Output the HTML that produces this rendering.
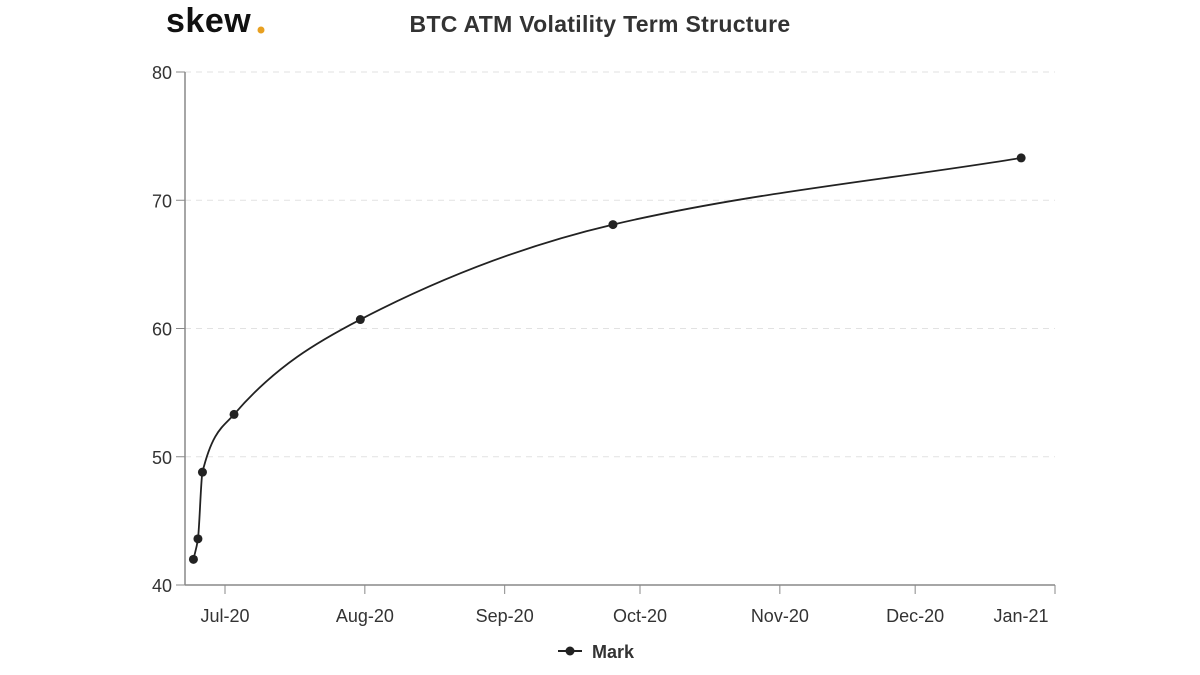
<!DOCTYPE html>
<html><head><meta charset="utf-8"><style>
body{margin:0;background:#fff;font-family:"Liberation Sans",sans-serif;}
svg text{font-family:"Liberation Sans",sans-serif;}
</style></head><body>
<svg id="chart" width="1200" height="670">
<text x="166" y="32" font-size="34" font-weight="bold" fill="#111" style="letter-spacing:0.5px">skew</text>
<circle cx="261" cy="30" r="3.5" fill="#e8a020"/>
<text x="600" y="32" font-size="23" font-weight="bold" fill="#333" text-anchor="middle" style="letter-spacing:0.3px">BTC ATM Volatility Term Structure</text>
<g id="grid"></g><g id="axes"></g><g id="series"></g>
<g>
<line x1="558" y1="651" x2="582" y2="651" stroke="#222" stroke-width="2"/>
<circle cx="570" cy="651" r="4.5" fill="#222"/>
<text x="592" y="658" font-size="18" font-weight="bold" fill="#333">Mark</text>
</g>
</svg>
<script>
const tickLabels=["Jul-20","Aug-20","Sep-20","Oct-20","Nov-20","Dec-20","Jan-21"];
const tickDays=[0,31,62,92,123,153,184];
const yTicks=[40,50,60,70,80];
const pointDays=[-7,-6,-5,2,30,86,176.5];
const markValues=[42.0,43.6,48.8,53.3,60.7,68.1,73.3];
const X0=185,X1=1055,Y0=585,Y1=72;
const dMin=-8.87,dMax=184;
const x=d=>X0+(d-dMin)/(dMax-dMin)*(X1-X0);
const y=v=>Y0-(v-40)/(80-40)*(Y0-Y1);
const NS="http://www.w3.org/2000/svg";
function mk(t,a,p){const e=document.createElementNS(NS,t);for(const k in a)e.setAttribute(k,a[k]);p.appendChild(e);return e;}
const grid=document.getElementById('grid'),axes=document.getElementById('axes'),ser=document.getElementById('series');
yTicks.forEach(v=>{
 if(v>40){const g=mk('line',{x1:X0,x2:X1,y1:y(v),y2:y(v),stroke:'#e2e2e2','stroke-dasharray':'6,5'},grid);
 
 }
 const tk=mk('line',{x1:X0-9,x2:X0,y1:y(v),y2:y(v),stroke:'#888'},axes);
 
 
 const t=mk('text',{x:X0-13,y:y(v)+7,'font-size':18,fill:'#333','text-anchor':'end'},axes);t.textContent=v;
 
 
});
const ya=mk('line',{x1:X0,x2:X0,y1:Y1,y2:Y0,stroke:'#888','stroke-width':1.5},axes);


const xa=mk('line',{x1:X0,x2:X1,y1:Y0,y2:Y0,stroke:'#888','stroke-width':1.5},axes);


tickDays.forEach((d,i)=>{
 const tk=mk('line',{x1:x(d),x2:x(d),y1:Y0,y2:Y0+9,stroke:'#888'},axes);
 
 
 let cx=x(d);if(i===tickDays.length-1)cx=1021;
 const t=mk('text',{x:cx,y:Y0+37,'font-size':18,fill:'#333','text-anchor':'middle'},axes);t.textContent=tickLabels[i];
 
 
});
const px=pointDays.map(x),py=markValues.map(y),n=px.length;
const dx=[],s=[];for(let i=0;i<n-1;i++){dx.push(px[i+1]-px[i]);s.push((py[i+1]-py[i])/dx[i]);}
const m=[s[0]];for(let i=1;i<n-1;i++){if(s[i-1]*s[i]<=0)m.push(0);else{const w1=2*dx[i]+dx[i-1],w2=dx[i]+2*dx[i-1];m.push((w1+w2)/(w1/s[i-1]+w2/s[i]));}}m.push(s[n-2]);
let d='M'+px[0]+','+py[0];
for(let i=0;i<n-1;i++){const h=dx[i]/3;d+=' C'+(px[i]+h)+','+(py[i]+m[i]*h)+' '+(px[i+1]-h)+','+(py[i+1]-m[i+1]*h)+' '+px[i+1]+','+py[i+1];}
const path=mk('path',{d:d,fill:'none',stroke:'#222','stroke-width':1.8},ser);


for(let i=0;i<n;i++){const c=mk('circle',{cx:px[i],cy:py[i],r:4.5,fill:'#222'},ser);
 
 }
</script>
</body></html>
